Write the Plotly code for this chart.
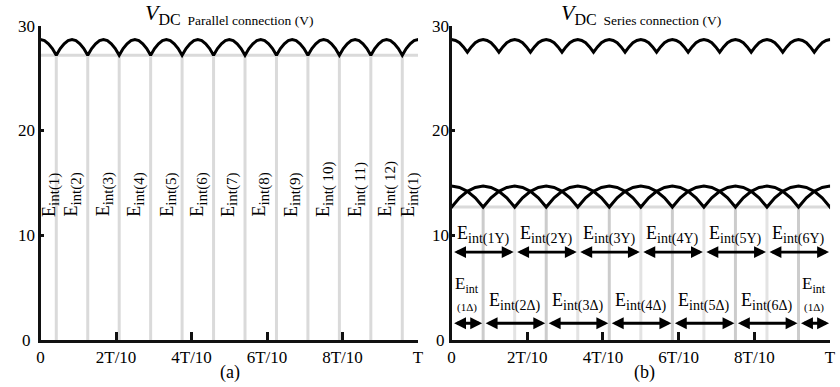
import plotly.graph_objects as go

FONT = "Liberation Serif"

# ---------------- data (time in units of T) ----------------
x_tickvals = [0, 0.2, 0.4, 0.6, 0.8, 1.0]
x_ticktext = ["0", "2T/10", "4T/10", "6T/10", "8T/10", "T"]
y_tickvals = [0, 10, 20, 30]
y_ticktext = ["0", "10", "20", "30"]

# one arc of a rectified waveform: relative position inside the arc (-1 .. 1) and values
arc_offsets = [-1, -0.75, -0.5, -0.25, 0, 0.25, 0.5, 0.75, 1]
par_arc_values = [27.2, 27.85, 28.3, 28.6, 28.7, 28.6, 28.3, 27.85, 27.2]
ser_arc_values = [27.5, 28.0, 28.4, 28.62, 28.7, 28.62, 28.4, 28.0, 27.5]
six_arc_values = [12.7, 13.58, 14.2, 14.57, 14.7, 14.57, 14.2, 13.58, 12.7]

# arc peak instants
par_peaks = [0, 1/12, 2/12, 3/12, 4/12, 5/12, 6/12, 7/12, 8/12, 9/12, 10/12, 11/12, 12/12]
par_half = 1/24
six_a_peaks = [0, 2/12, 4/12, 6/12, 8/12, 10/12, 12/12]
six_b_peaks = [-1/12, 1/12, 3/12, 5/12, 7/12, 9/12, 11/12, 13/12]
six_half = 1/12

# left panel: grey interval boundaries and labels
par_bounds = [1/24, 3/24, 5/24, 7/24, 9/24, 11/24, 13/24, 15/24, 17/24, 19/24, 21/24, 23/24]
par_floor = 27.2
par_label_x = [0.026, 0.086, 0.170, 0.253, 0.338, 0.420, 0.500, 0.584, 0.667, 0.752, 0.838, 0.918, 0.977]
par_label_sub = ["int(1)", "int(2)", "int(3)", "int(4)", "int(5)", "int(6)", "int(7)", "int(8)",
                 "int(9)", "int( 10)", "int( 11)", "int( 12)", "int(1)"]
par_label_y = 11.6

# right panel
ser_bounds_odd = [1/12, 3/12, 5/12, 7/12, 9/12, 11/12]
ser_bounds_even = [2/12, 4/12, 6/12, 8/12, 10/12]
ser_floor = 12.7
y_seg = [0, 1/6, 2/6, 3/6, 4/6, 5/6, 1]
y_seg_sub = ["int(1Y)", "int(2Y)", "int(3Y)", "int(4Y)", "int(5Y)", "int(6Y)"]
d_seg = [0, 1/12, 3/12, 5/12, 7/12, 9/12, 11/12, 1]
d_seg_sub = ["", "int(2Δ)", "int(3Δ)", "int(4Δ)", "int(5Δ)", "int(6Δ)", ""]
y_arrow_level = 8.4
y_label_level = 10.0
d_arrow_level = 1.6
d_label_level = 3.6
d_end_top_level = 5.3
d_end_bot_level = 3.1


def sub(txt, size):
    return ("<sub><span style='font-family:Liberation Serif;font-size:%dpx'>%s</span></sub>"
            % (size, txt))


def build_wave(peaks, half, values):
    xs, ys = [], []
    for p in peaks:
        for i, (o, v) in enumerate(zip(arc_offsets, values)):
            if xs and i == 0:
                continue
            xs.append(p + o * half)
            ys.append(v)
    return xs, ys


def vlines(xs, top):
    X, Y = [], []
    for x in xs:
        X += [x, x, None]
        Y += [0, top, None]
    return X, Y


fig = go.Figure()

# ---------- left panel ----------
gx, gy = vlines(par_bounds, par_floor)
fig.add_trace(go.Scatter(x=gx, y=gy, mode="lines", line=dict(color="#dadada", width=3),
                         xaxis="x", yaxis="y", hoverinfo="skip"))
fig.add_trace(go.Scatter(x=[0, 1], y=[par_floor, par_floor], mode="lines",
                         line=dict(color="#dadada", width=3), xaxis="x", yaxis="y", hoverinfo="skip"))
wx, wy = build_wave(par_peaks, par_half, par_arc_values)
fig.add_trace(go.Scatter(x=wx, y=wy, mode="lines", line=dict(color="black", width=3),
                         xaxis="x", yaxis="y"))

# ---------- right panel ----------
gx, gy = vlines(ser_bounds_even, ser_floor)
fig.add_trace(go.Scatter(x=gx, y=gy, mode="lines", line=dict(color="#e3e3e3", width=3),
                         xaxis="x2", yaxis="y2", hoverinfo="skip"))
gx, gy = vlines(ser_bounds_odd, ser_floor)
fig.add_trace(go.Scatter(x=gx, y=gy, mode="lines", line=dict(color="#cccccc", width=3),
                         xaxis="x2", yaxis="y2", hoverinfo="skip"))
fig.add_trace(go.Scatter(x=[0, 1], y=[ser_floor, ser_floor], mode="lines",
                         line=dict(color="#dadada", width=3), xaxis="x2", yaxis="y2", hoverinfo="skip"))
for peaks, half, vals in [(par_peaks, par_half, ser_arc_values),
                          (six_a_peaks, six_half, six_arc_values),
                          (six_b_peaks, six_half, six_arc_values)]:
    wx, wy = build_wave(peaks, half, vals)
    fig.add_trace(go.Scatter(x=wx, y=wy, mode="lines", line=dict(color="black", width=3),
                             xaxis="x2", yaxis="y2"))

# ---------- axes ----------
ydom = [47 / 387, 361 / 387]
axis_common = dict(showgrid=False, zeroline=False, showline=True, linecolor="#111111", linewidth=3,
                   fixedrange=True)
fig.update_layout(
    width=840, height=387, margin=dict(l=0, r=0, t=0, b=0),
    paper_bgcolor="white", plot_bgcolor="white", showlegend=False,
    font=dict(family=FONT, color="black"),
    xaxis=dict(domain=[37 / 840, 419 / 840], range=[0, 1], tickvals=x_tickvals, ticktext=x_ticktext,
               ticks="inside", ticklen=8, tickwidth=3, tickcolor="#111111",
               tickfont=dict(size=17, family=FONT), anchor="y", **axis_common),
    yaxis=dict(domain=ydom, range=[0, 30], tickvals=y_tickvals, showticklabels=False,
               ticks="inside", ticklen=3, tickwidth=3, tickcolor="#111111", anchor="x", **axis_common),
    xaxis2=dict(domain=[453 / 840, 836 / 840], range=[0, 1], tickvals=x_tickvals, ticktext=x_ticktext,
                ticks="inside", ticklen=8, tickwidth=3, tickcolor="#111111",
                tickfont=dict(size=17, family=FONT), anchor="y2", **axis_common),
    yaxis2=dict(domain=ydom, range=[0, 30], tickvals=y_tickvals, showticklabels=False,
                ticks="inside", ticklen=3, tickwidth=3, tickcolor="#111111", anchor="x2", **axis_common),
)

ann = []
# y tick labels (centred)
for v, t in zip(y_tickvals, y_ticktext):
    ann.append(dict(x=23 / 840, y=v, xref="paper", yref="y", text=t, showarrow=False,
                    font=dict(size=17, family=FONT), xanchor="center", yanchor="middle"))
    ann.append(dict(x=442 / 840, y=v, xref="paper", yref="y2", text=t, showarrow=False,
                    font=dict(size=17, family=FONT), xanchor="center", yanchor="middle"))

# titles and panel captions
ann.append(dict(x=228 / 840, y=(387 - 14) / 387, xref="paper", yref="paper", showarrow=False,
                text="<i>V</i>" + sub("DC</span><span style='font-family:Liberation Serif;font-size:13.5px'>  Parallel connection (V)", 16),
                font=dict(size=22, family=FONT), xanchor="center", yanchor="middle"))
ann.append(dict(x=645 / 840, y=(387 - 14) / 387, xref="paper", yref="paper", showarrow=False,
                text="<i>V</i>" + sub("DC</span><span style='font-family:Liberation Serif;font-size:13.5px'>  Series connection (V)", 16),
                font=dict(size=22, family=FONT), xanchor="center", yanchor="middle"))
ann.append(dict(x=229 / 840, y=(387 - 372) / 387, xref="paper", yref="paper", showarrow=False,
                text="(a)", font=dict(size=18, family=FONT), xanchor="center", yanchor="middle"))
ann.append(dict(x=648 / 840, y=(387 - 372) / 387, xref="paper", yref="paper", showarrow=False,
                text="(b)", font=dict(size=18, family=FONT), xanchor="center", yanchor="middle"))

# left rotated labels
for x, s in zip(par_label_x, par_label_sub):
    ann.append(dict(x=x, y=par_label_y, xref="x", yref="y", text="E" + sub(s, 15), textangle=-90,
                    showarrow=False, font=dict(size=18, family=FONT), xanchor="center", yanchor="bottom"))

# right arrows
arrow_style = dict(showarrow=True, arrowhead=2, startarrowhead=2, arrowside="end+start",
                   arrowsize=0.85, startarrowsize=0.85, arrowwidth=2.8, arrowcolor="black",
                   standoff=1, startstandoff=1, text="")
for a, b in zip(y_seg[:-1], y_seg[1:]):
    ann.append(dict(x=b, y=y_arrow_level, ax=a, ay=y_arrow_level, xref="x2", yref="y2",
                    axref="x2", ayref="y2", **arrow_style))
for a, b in zip(d_seg[:-1], d_seg[1:]):
    ann.append(dict(x=b, y=d_arrow_level, ax=a, ay=d_arrow_level, xref="x2", yref="y2",
                    axref="x2", ayref="y2", **arrow_style))
for a, b, s in zip(y_seg[:-1], y_seg[1:], y_seg_sub):
    ann.append(dict(x=(a + b) / 2, y=y_label_level, xref="x2", yref="y2", text="E" + sub(s, 14),
                    showarrow=False, font=dict(size=18, family=FONT), xanchor="center", yanchor="middle"))
for a, b, s in zip(d_seg[:-1], d_seg[1:], d_seg_sub):
    if s:
        ann.append(dict(x=(a + b) / 2, y=d_label_level, xref="x2", yref="y2", text="E" + sub(s, 14),
                        showarrow=False, font=dict(size=18, family=FONT), xanchor="center", yanchor="middle"))
    else:
        ann.append(dict(x=(a + b) / 2, y=d_end_top_level, xref="x2", yref="y2", text="E" + sub("int", 12),
                        showarrow=False, font=dict(size=17, family=FONT), xanchor="center", yanchor="middle"))
        ann.append(dict(x=(a + b) / 2, y=d_end_bot_level, xref="x2", yref="y2", text="(1Δ)",
                        showarrow=False, font=dict(size=11, family=FONT), xanchor="center", yanchor="middle"))

fig.update_layout(annotations=ann)
fig.write_html("out.html")
